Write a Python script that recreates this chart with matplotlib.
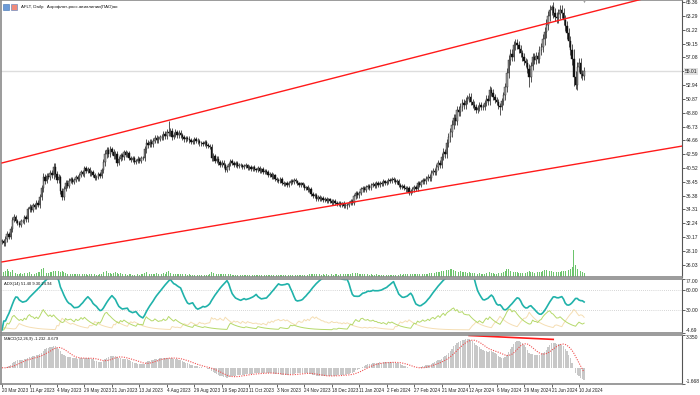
import numpy as np
import pandas as pd
import matplotlib
matplotlib.use("Agg")
import matplotlib.pyplot as plt
from matplotlib.patches import Rectangle

plt.rcParams['font.family'] = ['Liberation Sans', 'DejaVu Sans']

# daily closes AFLT, 20 Mar 2023 .. mid Jul 2024
close = [
    29.5, 29.2, 29.9, 30.6, 30.2, 31.4, 32.7, 33.2, 32.6, 32.3, 32.0, 32.6, 32.5, 33.1, 32.8, 34.3, 34.7, 34.2, 34.9, 34.7,
    35.3, 35.0, 36.2, 37.5, 39.2, 38.6, 39.3, 39.2, 39.8, 39.4, 40.7, 39.6, 38.7, 39.1, 37.0, 36.2, 37.4, 38.3, 37.8, 38.6,
    38.8, 38.4, 38.7, 39.2, 38.9, 39.5, 39.9, 39.6, 40.5, 40.1, 40.3, 39.7, 39.9, 39.5, 39.0, 39.2, 39.6, 39.3, 40.2, 41.4,
    42.6, 43.2, 42.6, 43.3, 42.9, 42.3, 42.6, 41.3, 41.9, 42.4, 42.1, 42.9, 42.5, 42.7, 42.0, 41.7, 42.0, 41.4, 41.6, 41.9,
    41.6, 42.0, 42.0, 43.3, 44.3, 44.0, 44.4, 44.1, 44.6, 45.0, 44.7, 44.9, 45.1, 45.2, 45.6, 45.3, 45.9, 45.8, 46.0, 45.2,
    45.5, 45.9, 45.4, 45.8, 45.4, 45.1, 44.8, 45.0, 44.9, 44.7, 44.4, 44.5, 44.8, 44.6, 44.5, 44.2, 44.3, 44.1, 44.4, 43.9,
    43.8, 43.7, 42.0, 42.3, 41.6, 41.9, 41.4, 41.0, 41.3, 40.9, 40.2, 40.6, 41.1, 41.5, 41.3, 41.0, 41.2, 40.8, 41.0, 40.9,
    40.6, 40.8, 40.9, 40.5, 40.7, 40.4, 40.6, 40.3, 40.2, 40.5, 40.1, 40.3, 39.9, 40.1, 39.9, 39.5, 39.6, 39.2, 39.4, 38.8,
    38.7, 38.5, 38.9, 38.3, 38.1, 38.2, 37.9, 38.3, 38.6, 38.4, 38.7, 38.5, 38.2, 38.0, 38.2, 37.9, 37.5, 37.6, 37.2, 37.4,
    36.6, 36.3, 36.5, 35.9, 36.2, 35.8, 36.0, 35.7, 35.9, 35.6, 35.8, 35.5, 35.3, 35.6, 35.2, 35.1, 35.3, 35.0, 35.2, 34.8,
    35.0, 34.9, 35.3, 35.6, 35.3, 36.3, 36.7, 36.4, 36.8, 37.3, 37.5, 37.2, 37.6, 37.8, 37.5, 37.9, 38.1, 37.8, 38.2, 38.0,
    38.3, 38.1, 38.5, 38.2, 38.4, 38.7, 38.5, 38.9, 38.7, 38.4, 38.6, 38.0, 37.7, 37.8, 37.5, 37.3, 37.5, 36.8, 37.0, 37.3,
    37.6, 37.4, 38.2, 38.0, 38.4, 38.7, 38.5, 38.9, 39.2, 39.0, 39.8, 40.1, 39.9, 40.7, 41.2, 41.0, 42.2, 42.9, 42.6, 44.3,
    45.1, 45.9, 47.0, 48.0, 47.6, 49.2, 48.9, 49.7, 50.3, 49.9, 50.6, 50.9, 51.2, 50.4, 50.0, 49.7, 49.2, 49.5, 49.9, 49.6,
    49.7, 50.3, 50.9, 50.5, 52.2, 51.8, 51.2, 50.7, 50.4, 49.8, 49.7, 50.5, 51.4, 52.6, 54.8, 56.7, 57.6, 57.2, 58.9, 59.2,
    59.0, 58.4, 57.7, 57.1, 56.5, 56.2, 55.4, 54.1, 55.8, 57.1, 56.7, 57.3, 56.9, 58.2, 58.6, 59.8, 60.9, 62.0, 63.3, 64.2,
    64.6, 63.8, 63.2, 63.0, 63.6, 64.2, 63.7, 62.7, 61.8, 60.7, 59.5, 58.2, 56.9, 54.2, 53.0, 55.6, 56.3, 54.6, 54.3, 55.01,
]

volume = [
    60, 45, 52, 70, 55, 48, 62, 40, 35, 30, 28, 33, 30, 38, 42, 35, 47, 30, 36, 28,
    40, 44, 50, 72, 85, 48, 40, 38, 45, 50, 55, 60, 48, 52, 45, 58, 50, 40, 32, 30,
    28, 26, 30, 25, 27, 24, 30, 28, 32, 25, 22, 24, 26, 22, 25, 20, 22, 24, 30, 45,
    62, 55, 40, 38, 32, 35, 42, 38, 30, 33, 28, 26, 24, 22, 25, 24, 22, 20, 22, 24,
    22, 25, 26, 40, 48, 35, 32, 30, 28, 30, 34, 28, 26, 30, 35, 30, 45, 55, 40, 38,
    30, 28, 26, 25, 27, 26, 30, 24, 22, 25, 23, 21, 22, 20, 21, 22, 20, 19, 21, 20,
    22, 24, 48, 35, 30, 28, 32, 30, 28, 26, 30, 28, 25, 24, 22, 21, 20, 22, 20, 19,
    18, 20, 19, 18, 20, 17, 18, 19, 17, 18, 19, 17, 20, 18, 17, 19, 20, 22, 21, 20,
    22, 20, 19, 23, 21, 20, 22, 20, 19, 18, 20, 18, 19, 20, 18, 21, 22, 20, 23, 25,
    26, 28, 25, 27, 24, 26, 23, 25, 22, 24, 21, 23, 25, 22, 24, 26, 23, 25, 24, 28,
    27, 30, 28, 32, 34, 30, 36, 33, 28, 30, 27, 25, 26, 24, 22, 25, 23, 21, 24, 22,
    20, 21, 22, 20, 19, 21, 20, 22, 19, 20, 21, 22, 24, 23, 25, 26, 28, 27, 25, 24,
    26, 28, 30, 27, 29, 31, 28, 30, 32, 34, 36, 38, 40, 42, 45, 48, 52, 60, 58, 62,
    65, 70, 75, 68, 55, 50, 45, 52, 48, 42, 45, 40, 44, 38, 36, 35, 32, 30, 33, 31,
    30, 32, 36, 40, 42, 38, 34, 32, 30, 35, 38, 40, 45, 52, 70, 75, 60, 55, 50, 48,
    45, 40, 38, 36, 40, 38, 42, 55, 48, 45, 40, 38, 42, 45, 50, 58, 62, 68, 60, 55,
    58, 50, 48, 46, 44, 48, 52, 55, 58, 62, 65, 72, 90, 250, 110, 70, 60, 55, 48, 40,
]

# a few long shadows seen on the chart
extra_high_bar = [97, 320]
extra_high = [47.6, 65.0]
extra_low_bar = [201, 290, 307, 334]
extra_low = [34.3, 48.4, 52.6, 52.4]

date_labels = ["20 Mar 2023", "11 Apr 2023", "4 May 2023", "29 May 2023", "21 Jun 2023",
               "13 Jul 2023", "4 Aug 2023", "29 Aug 2023", "19 Sep 2023", "11 Oct 2023",
               "3 Nov 2023", "24 Nov 2023", "18 Dec 2023", "11 Jan 2024", "2 Feb 2024",
               "27 Feb 2024", "21 Mar 2024", "12 Apr 2024", "6 May 2024", "29 May 2024",
               "21 Jun 2024", "10 Jul 2024"]
date_step = 16

price_ticks = [65.36, 63.29, 61.22, 59.15, 57.08, 55.01, 52.94, 50.87, 48.80, 46.73, 44.66,
               42.59, 40.52, 38.45, 36.38, 34.31, 32.24, 30.17, 28.10, 26.03]
adx_ticks = [77.00, 60.00, 30.00, -4.69]
adx_levels = [60.0, 30.0]
macd_ticks = [3.350, -1.668]
last_price = 55.01

# trend lines (bar, price)
upper_x = [0, 396]
upper_y = [41.27, 67.37]
lower_x = [0, 396]
lower_y = [26.43, 43.80]
div_x = [272, 321]
div_y = [3.30, 2.90]

# ---------- derived series ----------
c = np.array(close)
v = np.array(volume, dtype=float)
n = len(c)
bars = np.arange(n)
o = np.r_[c[0], c[:-1]]
# shadow length grows with the day's volume
shadow = 0.009 * c * np.sqrt(v / np.median(v))
hi = np.maximum(o, c) + shadow
lo = np.minimum(o, c) - shadow
hi[extra_high_bar] = extra_high
lo[extra_low_bar] = extra_low


def ema(x, p):
    return pd.Series(x).ewm(span=p, adjust=False).mean().values


def adx_mt5(h, l, cl, p=14):
    # same steps as the terminal's ADX: per-bar DI, then EMA smoothing
    pd_raw = np.zeros(len(cl))
    nd_raw = np.zeros(len(cl))
    for i in range(1, len(cl)):
        up = h[i] - h[i - 1]
        dn = l[i - 1] - l[i]
        pdm = up if up > 0 else 0.0
        ndm = dn if dn > 0 else 0.0
        if pdm > ndm:
            ndm = 0.0
        elif ndm > pdm:
            pdm = 0.0
        else:
            pdm = ndm = 0.0
        tr = max(h[i], cl[i - 1]) - min(l[i], cl[i - 1])
        if tr > 0:
            pd_raw[i] = 100 * pdm / tr
            nd_raw[i] = 100 * ndm / tr
    pdi = ema(pd_raw, p)
    ndi = ema(nd_raw, p)
    s = pdi + ndi
    dx = np.where(s > 0, 100 * np.abs(pdi - ndi) / np.where(s > 0, s, 1), 0)
    return ema(dx, p), pdi, ndi


adx, pdi, ndi = adx_mt5(hi, lo, c)
macd = ema(c, 12) - ema(c, 26)
signal = pd.Series(macd).rolling(9, min_periods=1).mean().values

# ---------- layout ----------
W, H = 700, 395
fig = plt.figure(figsize=(7, 3.95), dpi=100)


def rect(x0, y0, x1, y1):
    return [x0 / W, 1 - y1 / H, (x1 - x0) / W, (y1 - y0) / H]


ax = fig.add_axes(rect(1, 0, 682, 277))
vol_ax = ax.twinx()
ax_adx = fig.add_axes(rect(1, 279, 682, 333))
ax_macd = fig.add_axes(rect(1, 335, 682, 384))

xlim = (-0.6, 396.0)
fs = 3.6
for a in (ax, ax_adx, ax_macd):
    a.set_xlim(*xlim)
    a.yaxis.tick_right()
    a.tick_params(axis='y', labelsize=fs, length=2, width=0.5, pad=1, colors='#222')
    a.tick_params(axis='x', bottom=False, labelbottom=False)
    for sp in a.spines.values():
        sp.set_color('#8a8a8a')
        sp.set_linewidth(1.2)
    a.spines['right'].set_color('#555')
    a.spines['right'].set_linewidth(0.8)

# ---------- main pane ----------
ax.set_ylim(24.17, 65.70)
ax.set_yticks(price_ticks)
ax.set_yticklabels([f"{t:.2f}" for t in price_ticks])
ax.axhline(last_price, color='#dddddd', lw=1.0, zorder=1)

vol_ax.set_ylim(0, max(volume) * 277 / 27)
vol_ax.bar(bars, volume, width=0.5, color='#6cc46c', lw=0)
vol_ax.set_yticks([])
for sp in vol_ax.spines.values():
    sp.set_visible(False)
ax.set_zorder(vol_ax.get_zorder() + 1)
ax.patch.set_visible(False)

ax.vlines(bars, lo, hi, color='#3a3a3a', lw=0.6, zorder=3)
up = c >= o
ax.bar(bars[up], (c - o)[up], bottom=o[up], width=0.8, color='#9a9a9a',
       edgecolor='#222222', lw=0.3, zorder=4)
ax.bar(bars[~up], (c - o)[~up], bottom=o[~up], width=0.8, color='#111111',
       edgecolor='#111111', lw=0.3, zorder=4)

ax.plot(upper_x, upper_y, color='#ff1a1a', lw=1.0, zorder=5)
ax.plot(lower_x, lower_y, color='#ff1a1a', lw=1.0, zorder=5)

# chart-shift marker above the last bar
ax.plot([bars[-1]], [65.55], marker='v', ms=2.5, color='#a0a0a0', mec='none',
        clip_on=False, zorder=6)

ax.text(1.004, (last_price - 24.17) / (65.70 - 24.17), f"{last_price:.2f}",
        transform=ax.transAxes, fontsize=fs, va='center', ha='left', color='#222',
        bbox=dict(boxstyle='square,pad=0.2', fc='#e0e0e0', ec='none'))

fig.patches.append(Rectangle((3 / W, 1 - 10 / H), 6 / W, 6 / H, transform=fig.transFigure,
                             fc='#6b9bd8', ec='#3f6fb0', lw=0.4))
fig.patches.append(Rectangle((11 / W, 1 - 10 / H), 6 / W, 6 / H, transform=fig.transFigure,
                             fc='#f08a7a', ec='#4f7fc0', lw=0.4))
fig.text(21 / W, 1 - 7 / H, "AFLT, Daily:  Аэрофлот-росс.авиалинии(ПАО)ао",
         fontsize=3.2, va='center', ha='left', color='#111')

# ---------- ADX pane ----------
ax_adx.set_ylim(-4.69, 77.0)
ax_adx.set_yticks(adx_ticks)
ax_adx.set_yticklabels([f"{t:.2f}" for t in adx_ticks])
labs = ax_adx.get_yticklabels()
labs[0].set_verticalalignment('top')
labs[-1].set_verticalalignment('bottom')
for lv in adx_levels:
    ax_adx.axhline(lv, color='#b0b0b0', lw=0.5, ls=(0, (1, 2)))
ax_adx.plot(bars, ndi, color='#f5deb3', lw=0.7)
ax_adx.plot(bars, pdi, color='#b5d96a', lw=0.7)
ax_adx.plot(bars, adx, color='#20b2aa', lw=1.2)
ax_adx.text(3 / 681, 0.95, "ADX(14) 51.40 9.30 24.94", transform=ax_adx.transAxes,
            fontsize=3.0, va='top', ha='left', color='#111')

# ---------- MACD pane ----------
ax_macd.set_ylim(-1.668, 3.350)
ax_macd.set_yticks(macd_ticks)
ax_macd.set_yticklabels([f"{t:.3f}" for t in macd_ticks])
labs = ax_macd.get_yticklabels()
labs[0].set_verticalalignment('top')
labs[-1].set_verticalalignment('bottom')
ax_macd.bar(bars, macd, width=0.8, color='#c8c8c8', lw=0)
ax_macd.plot(bars, signal, color='#f05050', lw=0.8, ls=(0, (1, 1.2)))
ax_macd.plot(div_x, div_y, color='#ff1a1a', lw=1.2)
ax_macd.text(3 / 681, 0.95, "MACD(12,26,9) -1.232 -0.679", transform=ax_macd.transAxes,
             fontsize=3.0, va='top', ha='left', color='#111')

tick_pos = [i * date_step for i in range(len(date_labels))]
ax_macd.set_xticks(tick_pos)
ax_macd.set_xticklabels(date_labels)
ax_macd.tick_params(axis='x', bottom=True, labelbottom=True, labelsize=3.3, length=2,
                    width=0.5, pad=1, colors='#222')
for lab in ax_macd.get_xticklabels():
    lab.set_horizontalalignment('left')

fig.savefig("out.png", dpi=100)
